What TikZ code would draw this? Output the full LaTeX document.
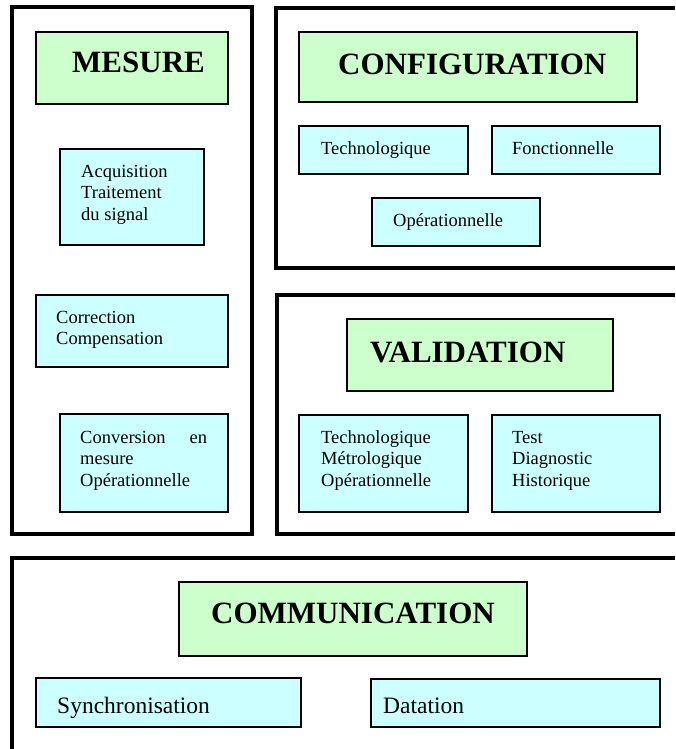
\documentclass[tikz,border=0pt]{standalone}
\usepackage{fontspec}
\setmainfont{Liberation Serif}
\definecolor{titlegreen}{HTML}{CCFFCC}
\definecolor{itemcyan}{HTML}{CCFFFF}
\tikzset{
  framepath/.style={draw=black, line width=4pt, line join=miter},
  titlebox/.style={rectangle, draw=black, line width=1.3pt, fill=titlegreen, anchor=north west, inner sep=0pt, outer sep=0pt},
  itembox/.style={rectangle, draw=black, line width=1.1pt, fill=itemcyan, anchor=north west, inner sep=0pt, outer sep=0pt},
  titletext/.style={anchor=base west, inner sep=0pt, font=\fontsize{31}{37}\selectfont\bfseries},
  itemtext/.style={anchor=base west, inner sep=0pt, font=\fontsize{18.5}{21.7}\selectfont},
  bigitemtext/.style={anchor=base west, inner sep=0pt, font=\fontsize{23.5}{28}\selectfont},
}
\begin{document}
\begin{tikzpicture}[x=1pt, y=-1pt]
\useasboundingbox (0,0) rectangle (675,749);
% outer frames
\node[rectangle, framepath, anchor=north west, inner sep=0pt, outer sep=0pt, minimum width=240pt, minimum height=526pt] (mesureframe) at (12,7.5) {};
\coordinate (cfgA) at (675,8);
\coordinate (cfgB) at (276,8);
\coordinate (cfgC) at (276,268);
\coordinate (cfgD) at (675,268);
\draw[framepath] (cfgA) -- (cfgB) -- (cfgC) -- (cfgD);
\coordinate (valA) at (675,295);
\coordinate (valB) at (276.5,295);
\coordinate (valC) at (276.5,533.5);
\coordinate (valD) at (675,533.5);
\draw[framepath] (valA) -- (valB) -- (valC) -- (valD);
\coordinate (comA) at (675,558);
\coordinate (comB) at (12,558);
\coordinate (comC) at (12,749);
\draw[framepath] (comA) -- (comB) -- (comC);

% MESURE
\node[titlebox, minimum width=192pt, minimum height=72pt] (mesurebox) at (36,32) {};
\node[titletext] (mesuretxt) at (72,73) {MESURE};
\node[itembox, minimum width=144pt, minimum height=96pt] (acqbox) at (60,149) {};
\node[itemtext] (acqtxt) at (81,177) {\parbox[t]{120pt}{Acquisition\\Traitement\\du signal}};
\node[itembox, minimum width=192pt, minimum height=72pt] (corbox) at (36,295) {};
\node[itemtext] (cortxt) at (56,323) {\parbox[t]{160pt}{Correction\\Compensation}};
\node[itembox, minimum width=168pt, minimum height=98pt] (convbox) at (60,414) {};
\node[itemtext] (convtxt) at (80,443) {\parbox[t]{127pt}{Conversion\hfill en\\mesure\\Opérationnelle}};

% CONFIGURATION
\node[titlebox, minimum width=338pt, minimum height=70pt] (configbox) at (299,32) {};
\node[titletext] (configtxt) at (338,75) {CONFIGURATION};
\node[itembox, minimum width=169pt, minimum height=48pt] (cfgtechbox) at (299,126) {};
\node[itemtext] (cfgtechtxt) at (321,154) {Technologique};
\node[itembox, minimum width=168pt, minimum height=48pt] (cfgfoncbox) at (492,126) {};
\node[itemtext] (cfgfonctxt) at (512,154) {Fonctionnelle};
\node[itembox, minimum width=168pt, minimum height=48pt] (cfgopbox) at (372,198) {};
\node[itemtext] (cfgoptxt) at (393,226) {Opérationnelle};

% VALIDATION
\node[titlebox, minimum width=266pt, minimum height=72pt] (valbox) at (347,319) {};
\node[titletext] (valtxt) at (370,362) {VALIDATION};
\node[itembox, minimum width=169pt, minimum height=97pt] (valleftbox) at (299,415) {};
\node[itemtext] (vallefttxt) at (321,443) {\parbox[t]{140pt}{Technologique\\Métrologique\\Opérationnelle}};
\node[itembox, minimum width=168pt, minimum height=97pt] (valrightbox) at (492,415) {};
\node[itemtext] (valrighttxt) at (512,443) {\parbox[t]{140pt}{Test\\Diagnostic\\Historique}};

% COMMUNICATION
\node[titlebox, minimum width=348pt, minimum height=74pt] (combox) at (179,582) {};
\node[titletext] (comtxt) at (211,623) {COMMUNICATION};
\node[itembox, minimum width=265pt, minimum height=49pt] (syncbox) at (36,678) {};
\node[bigitemtext] (synctxt) at (57,713) {Synchronisation};
\node[itembox, minimum width=289pt, minimum height=48pt] (datbox) at (371,679) {};
\node[bigitemtext] (dattxt) at (383,713) {Datation};
\end{tikzpicture}
\end{document}
